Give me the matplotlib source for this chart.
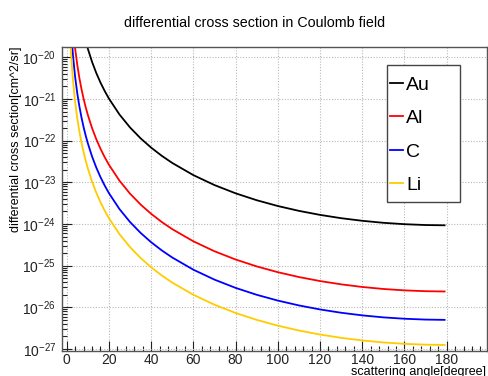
import matplotlib
matplotlib.use("Agg")
import math
import matplotlib.pyplot as plt
from matplotlib.ticker import FixedLocator, MultipleLocator, FuncFormatter, NullFormatter
from matplotlib.lines import Line2D
from matplotlib.patches import Rectangle

plt.rcParams['font.family'] = ['Liberation Sans', 'DejaVu Sans']
plt.rcParams['mathtext.fontset'] = 'custom'
plt.rcParams['mathtext.rm'] = 'Liberation Sans'
plt.rcParams['mathtext.it'] = 'Liberation Sans:italic'
plt.rcParams['mathtext.bf'] = 'Liberation Sans:bold'

# scattering angle [degree]
angle = [1, 2, 3, 4, 5, 6, 7, 8, 9, 10, 12, 14, 16, 18, 20, 25, 30, 35, 40, 45, 50,
         60, 70, 80, 90, 100, 110, 120, 130, 140, 150, 160, 170, 179]

au = [1.603e-16, 1.003e-17, 1.981e-18, 6.27e-19, 2.569e-19, 1.240e-19, 6.70e-20, 3.93e-20,
      2.454e-20, 1.612e-20, 7.79e-21, 4.216e-21, 2.478e-21, 1.553e-21, 1.023e-21, 4.24e-22,
      2.073e-22, 1.137e-22, 6.80e-23, 4.34e-23, 2.916e-23, 1.488e-23, 8.59e-24, 5.45e-24,
      3.72e-24, 2.70e-24, 2.066e-24, 1.654e-24, 1.378e-24, 1.193e-24, 1.068e-24, 9.89e-25,
      9.44e-25, 9.30e-25]
al = [4.14e-18, 2.587e-19, 5.11e-20, 1.618e-20, 6.63e-21, 3.20e-21, 1.728e-21, 1.014e-21,
      6.33e-22, 4.16e-22, 2.010e-22, 1.088e-22, 6.40e-23, 4.01e-23, 2.640e-23, 1.094e-23,
      5.35e-24, 2.935e-24, 1.754e-24, 1.119e-24, 7.52e-25, 3.84e-25, 2.217e-25, 1.406e-25,
      9.60e-26, 6.97e-26, 5.33e-26, 4.27e-26, 3.56e-26, 3.08e-26, 2.757e-26, 2.552e-26,
      2.437e-26, 2.40e-26]
c = [8.62e-19, 5.39e-20, 1.065e-20, 3.37e-21, 1.381e-21, 6.67e-22, 3.60e-22, 2.112e-22,
     1.320e-22, 8.67e-23, 4.19e-23, 2.267e-23, 1.333e-23, 8.35e-24, 5.50e-24, 2.279e-24,
     1.115e-24, 6.12e-25, 3.65e-25, 2.332e-25, 1.568e-25, 8.00e-26, 4.62e-26, 2.929e-26,
     2.00e-26, 1.452e-26, 1.111e-26, 8.89e-27, 7.41e-27, 6.41e-27, 5.74e-27, 5.32e-27,
     5.08e-27, 5.00e-27]
li = [2.155e-19, 1.348e-20, 2.663e-21, 8.43e-22, 3.45e-22, 1.666e-22, 9.00e-23, 5.28e-23,
      3.30e-23, 2.166e-23, 1.047e-23, 5.67e-24, 3.33e-24, 2.088e-24, 1.375e-24, 5.70e-25,
      2.786e-25, 1.529e-25, 9.14e-26, 5.83e-26, 3.92e-26, 2.00e-26, 1.155e-26, 7.32e-27,
      5.00e-27, 3.63e-27, 2.776e-27, 2.222e-27, 1.853e-27, 1.603e-27, 1.436e-27, 1.329e-27,
      1.269e-27, 1.25e-27]

series_names = ["Au", "Al", "C", "Li"]
series_values = [au, al, c, li]
series_colors = ["#000000", "#ff0000", "#0000ff", "#ffcc00"]

x_ticks = [0, 20, 40, 60, 80, 100, 120, 140, 160, 180]
y_decades = [-27, -26, -25, -24, -23, -22, -21, -20]

W, H = 488, 376
fig = plt.figure(figsize=(W / 100, H / 100), dpi=100)
L, R, T, B = 61.7, 486.7, 47.3, 350.7
ax = fig.add_axes([L / W, 1 - B / H, (R - L) / W, (B - T) / H])

for name, vals, col in zip(series_names, series_values, series_colors):
    ax.plot(angle, vals, color=col, lw=1.3, label=name)

ax.set_yscale('log')
ax.set_xlim(-2.37, 198.95)
ax.set_ylim(9.1e-28, 1.74e-20)

ax.xaxis.set_major_locator(FixedLocator(x_ticks))
ax.xaxis.set_minor_locator(MultipleLocator(4))
ax.yaxis.set_major_locator(FixedLocator([10.0 ** e for e in y_decades]))
ax.yaxis.set_minor_locator(FixedLocator([m * 10.0 ** e for e in [-28] + y_decades
                                         for m in range(2, 10)]))
ax.yaxis.set_minor_formatter(NullFormatter())

def yfmt(v, pos):
    e = int(round(math.log10(v)))
    return r"$\mathregular{10^{%d}}$" % e
ax.yaxis.set_major_formatter(FuncFormatter(yfmt))

ax.tick_params(which='both', direction='in', top=False, right=False, labelsize=10, colors='#222222')
ax.tick_params(which='major', length=7, width=0.8)
ax.tick_params(which='minor', length=3.5, width=0.8)
ax.tick_params(axis='x', pad=1.5)
ax.tick_params(axis='y', pad=4)

ax.grid(True, which='major', color='#b8b8b8', linestyle=(0, (1, 1.5)), lw=0.8)
for s in ax.spines.values():
    s.set_color('#555555')
    s.set_linewidth(1.0)

fig.text(254.5 / W, 1 - 27 / H, "differential cross section in Coulomb field",
         ha='center', va='baseline', fontsize=10.3)
fig.text(16.5 / W, 1 - 47 / H, "differential cross section[cm^2/sr]",
         ha='center', va='top', rotation=90, fontsize=9)
fig.text(486 / W, 1 - 374.5 / H, "scattering angle[degree]",
         ha='right', va='baseline', fontsize=9)

# legend box
fig.patches.append(Rectangle((387.3 / W, 1 - 202 / H), 72.7 / W, 137 / H,
                             transform=fig.transFigure, facecolor='white',
                             edgecolor='#444444', lw=1.0, zorder=4))
handles = [Line2D([], [], color=col, lw=1.3) for col in series_colors]
leg = fig.legend(handles, series_names, loc='upper left', bbox_to_anchor=(390 / W, 1 - 76 / H),
                 bbox_transform=fig.transFigure, frameon=False, borderpad=0, borderaxespad=0,
                 handlelength=0.67, handletextpad=0.15, labelspacing=0.82, fontsize=14)
leg.set_zorder(5)

fig.savefig("out.png", dpi=100)
